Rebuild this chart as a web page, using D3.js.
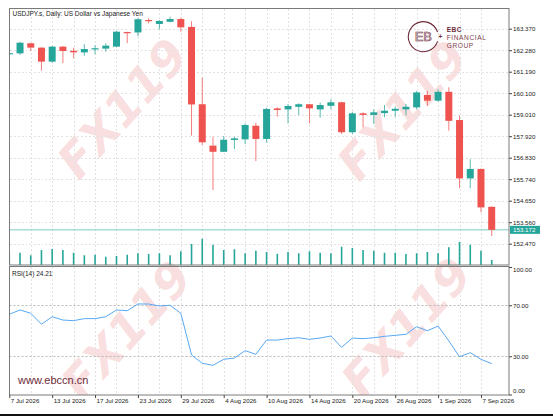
<!DOCTYPE html>
<html>
<head>
<meta charset="utf-8">
<script src="https://cdn.jsdelivr.net/npm/d3@7"></script>
<style>
  body { margin: 0; background: #fff; }
  svg { display: block; font-family: "Liberation Sans", Arial, sans-serif; }
</style>
</head>
<body>
<div id="chart"></div>
<script>
// Daily bars, USDJPY.s
var dates = [
  "2026-07-07", "2026-07-08", "2026-07-09", "2026-07-10",
  "2026-07-13", "2026-07-14", "2026-07-15", "2026-07-16", "2026-07-17",
  "2026-07-20", "2026-07-21", "2026-07-22", "2026-07-23", "2026-07-24",
  "2026-07-27", "2026-07-28", "2026-07-29", "2026-07-30", "2026-07-31",
  "2026-08-03", "2026-08-04", "2026-08-05", "2026-08-06", "2026-08-07",
  "2026-08-10", "2026-08-11", "2026-08-12", "2026-08-13", "2026-08-14",
  "2026-08-17", "2026-08-18", "2026-08-19", "2026-08-20", "2026-08-21",
  "2026-08-24", "2026-08-25", "2026-08-26", "2026-08-27", "2026-08-28",
  "2026-08-31", "2026-09-01", "2026-09-02", "2026-09-03", "2026-09-04",
  "2026-09-07", "2026-09-08"
];
var open = [162.11, 162.12, 162.63, 162.41, 161.70, 162.46, 162.25, 162.17, 162.33, 162.36,
  162.46, 163.20, 163.18, 163.81, 163.61, 163.72, 163.86, 163.46, 159.54, 157.44,
  157.13, 157.73, 157.76, 158.45, 157.78, 159.33, 159.28, 159.41, 159.54, 159.28,
  159.46, 159.64, 158.12, 159.08, 159.00, 159.09, 159.21, 159.28, 159.38, 160.01,
  159.72, 160.17, 158.74, 155.78, 156.26, 154.34];
var high = [162.15, 162.70, 162.66, 162.43, 162.49, 162.49, 162.41, 162.58, 162.54, 162.63,
  163.25, 163.22, 163.90, 163.91, 163.81, 163.98, 163.93, 163.75, 160.89, 157.89,
  157.93, 157.89, 158.57, 158.60, 159.36, 159.38, 159.55, 159.59, 159.55, 159.62,
  159.79, 159.67, 159.16, 159.13, 159.28, 159.50, 159.41, 159.55, 160.21, 160.21,
  160.30, 160.40, 158.96, 156.75, 156.28, 154.36];
var low = [162.08, 162.04, 162.25, 161.24, 161.65, 161.62, 161.87, 162.00, 162.07, 162.20,
  162.43, 162.64, 162.98, 163.64, 163.34, 163.69, 163.22, 157.95, 157.47, 155.19,
  157.12, 157.27, 157.52, 156.66, 157.59, 158.91, 158.57, 158.99, 158.57, 158.86,
  159.28, 158.03, 158.03, 158.37, 158.54, 158.88, 158.91, 158.98, 159.28, 159.45,
  159.67, 158.20, 155.28, 155.28, 154.06, 152.86];
var close = [162.13, 162.66, 162.41, 161.70, 162.46, 162.24, 162.17, 162.34, 162.38, 162.51,
  163.22, 163.17, 163.85, 163.78, 163.76, 163.86, 163.44, 159.53, 157.61, 157.13,
  157.74, 157.81, 158.49, 157.78, 159.30, 159.25, 159.45, 159.54, 159.33, 159.50,
  159.64, 158.12, 159.08, 159.00, 159.13, 159.21, 159.31, 159.41, 160.14, 159.72,
  160.17, 158.70, 155.78, 156.26, 154.31, 153.172];
var volume = [110, 123, 97, 150, 160, 150, 123, 97, 103, 83,
  90, 103, 117, 110, 117, 97, 137, 210, 263, 203,
  150, 157, 117, 143, 130, 113, 130, 117, 137, 123,
  117, 183, 170, 150, 143, 123, 123, 110, 117, 130,
  117, 177, 230, 203, 143, 50];
var rsi = [62.9, 66.3, 63.7, 55.1, 61.0, 58.4, 57.9, 59.5, 59.5, 61.0,
  66.3, 65.7, 71.0, 71.0, 69.4, 70.0, 63.7, 31.0, 24.5, 22.9,
  27.6, 28.6, 34.4, 31.5, 42.7, 42.7, 43.8, 44.5, 43.3, 44.3,
  45.9, 37.0, 44.3, 43.8, 44.5, 45.6, 46.4, 47.2, 53.2, 50.0,
  53.7, 42.0, 29.6, 32.8, 27.6, 24.21];
var priceTicks = [152.47, 153.56, 154.65, 155.74, 156.83, 157.92, 159.01, 160.10, 161.19, 162.28, 163.37];
var rsiTicks = [0, 30, 70, 100];
var rsiLevels = [30, 70];
var lastPrice = 153.172;

var width = 553, height = 417;
var pane = { left: 9.5, right: 509, mainTop: 8.5, mainBottom: 265, rsiTop: 266.5, rsiBottom: 395 };
var up = "#26a69a", down = "#ef5350";

var bars = dates.map(function (d, i) {
  return { date: d, o: open[i], h: high[i], l: low[i], c: close[i], v: volume[i], r: rsi[i] };
});

var x = d3.scalePoint().domain(dates).range([9.3, 491.7]);
var y = d3.scaleLinear().domain([152.47, 163.37]).range([243.7, 28.7]);
var yVol = d3.scaleLinear().domain([0, 300]).range([pane.mainBottom, pane.mainBottom - 30]);
var yRsi = d3.scaleLinear().domain([0, 100]).range([394.5, 267]);

var parse = d3.timeParse("%Y-%m-%d");
var fmtDate = d3.timeFormat("%-d %b %Y");

var svg = d3.select("#chart").append("svg")
  .attr("width", width)
  .attr("height", height);

svg.append("rect").attr("width", width).attr("height", height).attr("fill", "#fff");

var defs = svg.append("defs");
defs.append("clipPath").attr("id", "clipMain").append("rect")
  .attr("x", pane.left).attr("y", pane.mainTop)
  .attr("width", pane.right - pane.left).attr("height", pane.mainBottom - pane.mainTop);
defs.append("clipPath").attr("id", "clipRsi").append("rect")
  .attr("x", pane.left).attr("y", pane.rsiTop)
  .attr("width", pane.right - pane.left).attr("height", pane.rsiBottom - pane.rsiTop);
defs.append("clipPath").attr("id", "clipAll").append("rect")
  .attr("x", pane.left).attr("y", pane.mainTop)
  .attr("width", pane.right - pane.left).attr("height", pane.rsiBottom - pane.mainTop);

// watermarks
var marks = [[122, 108], [402, 110], [126, 330], [406, 327]];
svg.append("g").attr("clip-path", "url(#clipAll)")
  .selectAll("text")
  .data(marks)
  .enter()
  .append("text")
  .attr("transform", function (d) { return "translate(" + d[0] + "," + d[1] + ") rotate(-48)"; })
  .attr("text-anchor", "middle")
  .attr("dy", "0.36em")
  .style("font-family", "'DejaVu Sans', sans-serif")
  .style("font-weight", "bold")
  .style("font-style", "italic")
  .style("font-size", "47px")
  .attr("fill", "#e05555")
  .attr("fill-opacity", 0.2)
  .text("FX119");

// grid
var gridDates = dates.filter(function (d, i) { return i % 2 === 0; });
var grid = svg.append("g")
  .attr("stroke", "#e2e2e2")
  .attr("stroke-dasharray", "2,2")
  .attr("shape-rendering", "crispEdges");
grid.selectAll("line.v1").data(gridDates).enter().append("line")
  .attr("x1", function (d) { return Math.round(x(d)) + 0.5; })
  .attr("x2", function (d) { return Math.round(x(d)) + 0.5; })
  .attr("y1", pane.mainTop).attr("y2", pane.mainBottom);
grid.selectAll("line.v2").data(gridDates).enter().append("line")
  .attr("x1", function (d) { return Math.round(x(d)) + 0.5; })
  .attr("x2", function (d) { return Math.round(x(d)) + 0.5; })
  .attr("y1", pane.rsiTop).attr("y2", pane.rsiBottom);
grid.selectAll("line.h").data(priceTicks).enter().append("line")
  .attr("x1", pane.left).attr("x2", pane.right)
  .attr("y1", function (d) { return Math.round(y(d)) + 0.5; })
  .attr("y2", function (d) { return Math.round(y(d)) + 0.5; });
svg.append("g").selectAll("line").data(rsiLevels).enter().append("line")
  .attr("x1", pane.left).attr("x2", pane.right)
  .attr("y1", function (d) { return Math.round(yRsi(d)) + 0.5; })
  .attr("y2", function (d) { return Math.round(yRsi(d)) + 0.5; })
  .attr("stroke", "#b8b8b8")
  .attr("stroke-dasharray", "2,2");

// main pane: volumes, price line, candles
var main = svg.append("g").attr("clip-path", "url(#clipMain)");

main.selectAll("line.vol").data(bars).enter().append("line")
  .attr("class", "vol")
  .attr("x1", function (d) { return x(d.date); })
  .attr("x2", function (d) { return x(d.date); })
  .attr("y1", yVol(0))
  .attr("y2", function (d) { return yVol(d.v); })
  .attr("stroke", up)
  .attr("stroke-width", 1.6);

main.append("line")
  .attr("x1", pane.left).attr("x2", pane.right)
  .attr("y1", y(lastPrice)).attr("y2", y(lastPrice))
  .attr("stroke", "#7fcac2")
  .attr("stroke-width", 1);

var candle = main.selectAll("g.candle").data(bars).enter().append("g").attr("class", "candle");
candle.append("line")
  .attr("x1", function (d) { return x(d.date); })
  .attr("x2", function (d) { return x(d.date); })
  .attr("y1", function (d) { return y(d.h); })
  .attr("y2", function (d) { return y(d.l); })
  .attr("stroke", function (d) { return d.c >= d.o ? up : down; })
  .attr("stroke-opacity", 0.75)
  .attr("stroke-width", 1);
candle.append("rect")
  .attr("x", function (d) { return x(d.date) - 3.5; })
  .attr("width", 7)
  .attr("y", function (d) { return y(Math.max(d.o, d.c)); })
  .attr("height", function (d) { return Math.max(1.2, Math.abs(y(d.o) - y(d.c))); })
  .attr("fill", function (d) { return d.c >= d.o ? up : down; });

// RSI pane
svg.append("g").attr("clip-path", "url(#clipRsi)")
  .append("path")
  .datum(bars)
  .attr("fill", "none")
  .attr("stroke", "#58a8f4")
  .attr("stroke-width", 1)
  .attr("d", d3.line()
    .x(function (d) { return x(d.date); })
    .y(function (d) { return yRsi(d.r); }));

// frames
svg.append("rect")
  .attr("x", pane.left).attr("y", pane.mainTop)
  .attr("width", pane.right - pane.left).attr("height", pane.mainBottom - pane.mainTop)
  .attr("fill", "none").attr("stroke", "#7a7a7a");
svg.append("rect")
  .attr("x", pane.left).attr("y", pane.rsiTop)
  .attr("width", pane.right - pane.left).attr("height", pane.rsiBottom - pane.rsiTop)
  .attr("fill", "none").attr("stroke", "#7a7a7a");

// axes
function styleAxis(g) {
  g.select(".domain").remove();
  g.selectAll("line").attr("stroke", "#444");
  g.selectAll("text").attr("fill", "#222").style("font-size", "6.2px")
    .style("font-family", "'Liberation Sans', Arial, sans-serif");
}

svg.append("g")
  .attr("transform", "translate(" + pane.right + ",0)")
  .call(d3.axisRight(y).tickValues(priceTicks).tickSize(3).tickPadding(1).tickFormat(d3.format(".3f")))
  .call(styleAxis);

var rsiAxis = svg.append("g")
  .attr("transform", "translate(" + pane.right + ",0)")
  .call(d3.axisRight(yRsi).tickValues(rsiTicks).tickSize(3).tickPadding(1).tickFormat(d3.format(".2f")))
  .call(styleAxis);
rsiAxis.selectAll("text")
  .attr("y", function (d) { return d === 100 ? 2.5 : d === 0 ? -3.5 : 0; });

var xAxis = svg.append("g")
  .attr("transform", "translate(0," + pane.rsiBottom + ")")
  .call(d3.axisBottom(x)
    .tickValues(dates.filter(function (d, i) { return i % 4 === 0; }))
    .tickSize(3).tickPadding(1)
    .tickFormat(function (d) { return fmtDate(parse(d)); }))
  .call(styleAxis);
xAxis.selectAll("text").attr("text-anchor", "start").attr("x", 1);

// last price tag
var tag = svg.append("g").attr("transform", "translate(" + (pane.right + 1) + "," + y(lastPrice) + ")");
tag.append("rect").attr("x", 0).attr("y", -4).attr("width", 30).attr("height", 8).attr("fill", up);
tag.append("text").attr("x", 3).attr("dy", "0.35em")
  .attr("fill", "#fff").style("font-size", "6.2px")
  .text(d3.format(".3f")(lastPrice));

// labels
svg.append("text").attr("x", 12.5).attr("y", 16)
  .attr("fill", "#222").style("font-size", "6.5px")
  .text("USDJPY.s, Daily:  US Dollar vs Japanese Yen");
svg.append("text").attr("x", 12).attr("y", 276)
  .attr("fill", "#222").style("font-size", "6.5px")
  .text("RSI(14) " + d3.format(".2f")(rsi[rsi.length - 1]));

// logo
var logo = svg.append("g").attr("transform", "translate(423.3,36.7)");
logo.append("path")
  .attr("d", d3.arc().innerRadius(14.5).outerRadius(15.6)
    .startAngle(Math.PI / 2 + 0.32).endAngle(Math.PI * 2.5 - 0.32)())
  .attr("fill", "#6d2b3a");
logo.append("text").attr("text-anchor", "middle").attr("dy", "0.36em")
  .attr("fill", "none").attr("stroke", "#6d2b3a").attr("stroke-width", 0.6)
  .style("font-size", "13px").text("EB");
logo.append("text").attr("x", 15.3).attr("dy", "0.35em")
  .attr("fill", "#6d2b3a").style("font-size", "6.5px").style("font-weight", "bold").text("+");
svg.append("text").attr("x", 446.7).attr("y", 32.2)
  .attr("fill", "#6d2b3a").style("font-size", "6.6px").style("font-weight", "bold")
  .style("letter-spacing", "0.5px").text("EBC");
svg.append("text").attr("x", 446.7).attr("y", 40)
  .attr("fill", "#7d3e4d").style("font-size", "6.6px")
  .style("letter-spacing", "0.6px").text("FINANCIAL");
svg.append("text").attr("x", 446.7).attr("y", 47.8)
  .attr("fill", "#7d3e4d").style("font-size", "6.6px")
  .style("letter-spacing", "0.6px").text("GROUP");

svg.append("text").attr("x", 18).attr("y", 384)
  .attr("fill", "#6d2b3a").style("font-size", "11px").text("www.ebccn.cn");

svg.append("line")
  .attr("x1", 0).attr("x2", width).attr("y1", 415).attr("y2", 415)
  .attr("stroke", "#111").attr("stroke-width", 2);
</script>
</body>
</html>
